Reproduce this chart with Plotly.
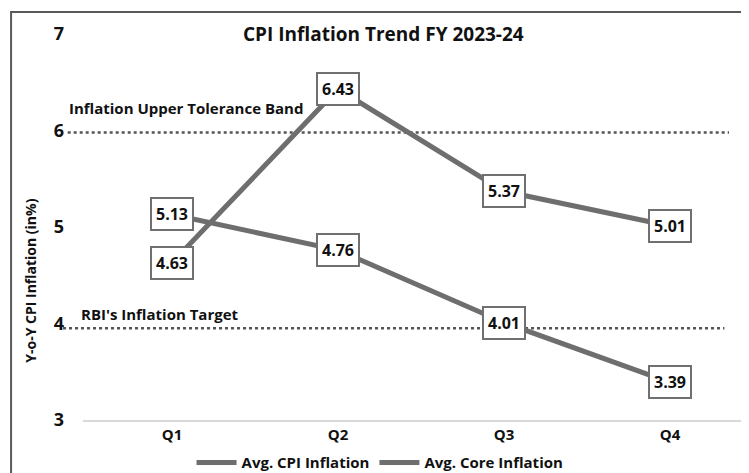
import plotly.graph_objects as go

quarters = ["Q1", "Q2", "Q3", "Q4"]
cpi_inflation = [4.63, 6.43, 5.37, 5.01]
core_inflation = [5.13, 4.76, 4.01, 3.39]
series_names = ["Avg. CPI Inflation", "Avg. Core Inflation"]
y_ticks = [3, 4, 5, 6, 7]
upper_band_value = 5.98
upper_band_label = "Inflation Upper Tolerance Band"
target_value = 3.95
target_label = "RBI's Inflation Target"

FONT = "Open Sans"
LINE_COLOR = "#6e6e6e"
x_idx = list(range(len(quarters)))

fig = go.Figure()
for name, vals in zip(series_names, [cpi_inflation, core_inflation]):
    fig.add_trace(go.Scatter(
        x=x_idx, y=vals, mode="lines", name=f"<b>{name}</b>",
        line=dict(color=LINE_COLOR, width=5),
        hoverinfo="skip",
    ))

annotations = []
for vals in [cpi_inflation, core_inflation]:
    for xi, v in zip(x_idx, vals):
        annotations.append(dict(
            x=xi, y=v, xref="x", yref="y", text=f"<b>{v:.2f}</b>",
            showarrow=False, font=dict(family=FONT, size=16, color="#111111"),
            bgcolor="white", bordercolor="#707070", borderwidth=2, borderpad=4,
        ))

shapes = []
for val, x0, x1 in [(upper_band_value, -0.023, 0.97), (target_value, -0.03, 0.963)]:
    shapes.append(dict(
        type="line", xref="paper", yref="y", x0=x0, x1=x1, y0=val, y1=val,
        line=dict(color="#555555", width=2.5, dash="dot"), layer="below",
    ))
# outer frame
shapes.append(dict(
    type="rect", xref="paper", yref="paper", x0=-0.108, x1=1.2, y0=-0.5, y1=1.057,
    line=dict(color="#595959", width=2), fillcolor="rgba(0,0,0,0)", layer="below",
))

annotations.append(dict(
    x=-0.024, y=upper_band_value, xref="paper", yref="y", yshift=24,
    xanchor="left", yanchor="middle", showarrow=False,
    text=f"<b>{upper_band_label}</b>", font=dict(family=FONT, size=15, color="#111111"),
))
annotations.append(dict(
    x=-0.006, y=target_value, xref="paper", yref="y", yshift=14,
    xanchor="left", yanchor="middle", showarrow=False,
    text=f"<b>{target_label}</b>", font=dict(family=FONT, size=15, color="#111111"),
))
annotations.append(dict(
    x=-0.08, y=0.36, xref="paper", yref="paper", textangle=-90,
    xanchor="center", yanchor="middle", showarrow=False,
    text="<b>Y-o-Y CPI Inflation (in%)</b>", font=dict(family=FONT, size=14, color="#111111"),
))
annotations.append(dict(
    x=0.451, y=1.0, xref="paper", yref="paper",
    xanchor="center", yanchor="middle", showarrow=False,
    text="<b>CPI Inflation Trend FY 2023-24</b>", font=dict(family=FONT, size=19, color="#111111"),
))

fig.update_layout(
    width=741, height=465,
    margin=dict(l=75, r=0, t=26, b=53, autoexpand=False),
    paper_bgcolor="white", plot_bgcolor="white",
    showlegend=True,
    legend=dict(
        orientation="h", x=0.446, xanchor="center", y=-0.111, yanchor="middle",
        font=dict(family=FONT, size=15, color="#111111"),
        itemwidth=40, bgcolor="rgba(0,0,0,0)", tracegroupgap=0,
    ),
    xaxis=dict(
        range=[-0.536, 3.476], tickmode="array", tickvals=x_idx,
        ticktext=[f"<b>{q}</b>" for q in quarters],
        showgrid=False, zeroline=False, showline=True, linecolor="#d9d9d9", linewidth=2,
        ticks="", tickfont=dict(family=FONT, size=15, color="#111111"),
        fixedrange=True, automargin=False,
    ),
    yaxis=dict(
        range=[3, 7], tickmode="array", tickvals=y_ticks,
        ticktext=[f"<b>{t}</b>" for t in y_ticks],
        showgrid=False, zeroline=False, showline=False, ticks="",
        tickfont=dict(family=FONT, size=18, color="#111111"),
        ticklabelstandoff=18, fixedrange=True, automargin=False,
    ),
    shapes=shapes,
    annotations=annotations,
    font=dict(family=FONT),
)

fig.write_html("out.html")
